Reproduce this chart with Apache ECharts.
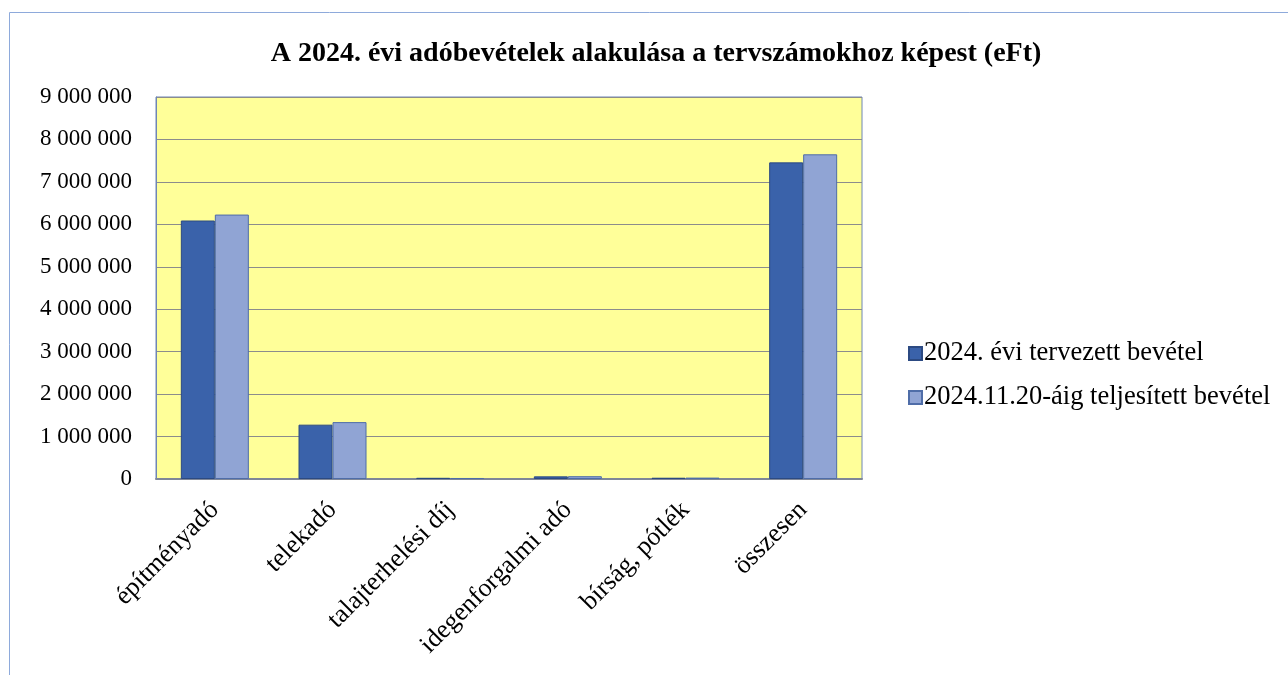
<!DOCTYPE html>
<html>
<head>
<meta charset="utf-8">
<script src="https://cdn.jsdelivr.net/npm/echarts@6/dist/echarts.min.js"></script>
<style>
    html, body { margin: 0; padding: 0; background: #fff; }
    #chart { width: 1288px; height: 675px; }
</style>
</head>
<body>
<div id="chart"></div>
<script>
    // adónemek
    let categories = ['építményadó', 'telekadó', 'talajterhelési díj', 'idegenforgalmi adó', 'bírság, pótlék', 'összesen'];
    // eFt
    let planned = [6090000, 1280000, 28000, 62000, 30000, 7460000];
    let actual = [6230000, 1340000, 24000, 66000, 33000, 7650000];
    let seriesNames = ['2024. évi tervezett bevétel', '2024.11.20-áig teljesített bevétel'];

    let fontFamily = '"Liberation Serif", "Times New Roman", serif';

    function fmt(v) {
        return String(v).replace(/\B(?=(\d{3})+(?!\d))/g, ' ');
    }

    let myChart = echarts.init(document.getElementById('chart'));
    let option = {
        backgroundColor: '#ffffff',
        textStyle: { fontFamily: fontFamily },
        title: {
            text: 'A 2024. évi adóbevételek alakulása a tervszámokhoz képest (eFt)',
            left: 651,
            textAlign: 'center',
            top: 35,
            textStyle: { fontFamily: fontFamily, fontSize: 28, fontWeight: 'bold', color: '#000' }
        },
        graphic: [{
            type: 'rect',
            shape: { x: 9.5, y: 12.5, width: 1300, height: 700 },
            style: { fill: 'none', stroke: '#8EAADB', lineWidth: 1 },
            silent: true
        }],
        legend: {
            orient: 'vertical',
            left: 903,
            top: 335,
            itemGap: 17,
            itemWidth: 13,
            itemHeight: 13,
            icon: 'rect',
            textStyle: { fontFamily: fontFamily, fontSize: 26.5, color: '#000', padding: [0, 0, 0, -3] },
            data: seriesNames
        },
        grid: {
            left: 156,
            right: 426,
            top: 97,
            bottom: 196,
            show: true,
            backgroundColor: '#FFFF99',
            borderColor: '#6F86B5',
            borderWidth: 1
        },
        xAxis: {
            type: 'category',
            data: categories,
            axisLine: { lineStyle: { color: '#7F8798', width: 2 } },
            axisTick: { show: false },
            axisLabel: {
                rotate: 45,
                margin: 27,
                interval: 0,
                fontFamily: fontFamily,
                fontSize: 26,
                color: '#000'
            }
        },
        yAxis: {
            type: 'value',
            min: 0,
            max: 9000000,
            interval: 1000000,
            axisLine: { show: true, lineStyle: { color: '#6F86B5' } },
            axisTick: { show: false },
            splitLine: { lineStyle: { color: '#8C8C8C', width: 1 } },
            axisLabel: {
                margin: 24,
                fontFamily: fontFamily,
                fontSize: 23,
                color: '#000',
                formatter: fmt
            }
        },
        series: [
            {
                name: seriesNames[0],
                type: 'bar',
                data: planned,
                barWidth: 34,
                barGap: '0%',
                itemStyle: { color: '#3A62AA', borderColor: '#2C4A82', borderWidth: 1 }
            },
            {
                name: seriesNames[1],
                type: 'bar',
                data: actual,
                barWidth: 34,
                itemStyle: { color: '#90A4D4', borderColor: '#4F6DA8', borderWidth: 1 }
            }
        ]
    };
    myChart.setOption(option);
</script>
</body>
</html>
